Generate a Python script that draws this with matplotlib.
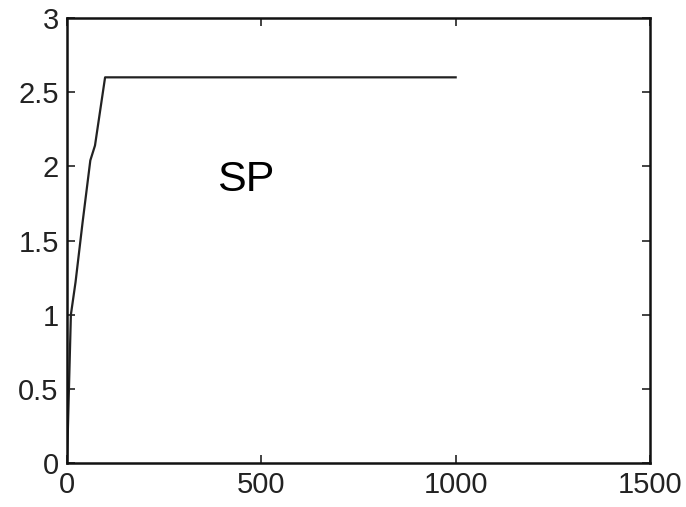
import matplotlib
matplotlib.use("Agg")
import matplotlib.pyplot as plt

x_vals = [0, 3, 10, 22, 40, 60, 72, 98, 1000]
y_vals = [0, 0.3, 1.0, 1.22, 1.62, 2.04, 2.14, 2.6, 2.6]
x_ticks = [0, 500, 1000, 1500]
y_ticks = [0, 0.5, 1, 1.5, 2, 2.5, 3]
y_tick_labels = ["0", "0.5", "1", "1.5", "2", "2.5", "3"]
label_text = "SP"

plt.rcParams['font.family'] = ['Liberation Sans', 'DejaVu Sans']

fig = plt.figure(figsize=(6.86, 5.07), dpi=100)
ax = fig.add_axes([67/686, 1 - 463/507, (650-67)/686, (463-18)/507])
ax.plot(x_vals, y_vals, color='#222222', lw=1.6)
ax.set_xlim(0, 1500)
ax.set_ylim(0, 3)
ax.set_xticks(x_ticks)
ax.set_xticklabels([str(t) for t in x_ticks])
ax.set_yticks(y_ticks)
ax.set_yticklabels(y_tick_labels)
ax.tick_params(direction='in', length=6, width=1.2, top=True, right=True,
               labelsize=21, colors='#222222', pad=6)
for s in ax.spines.values():
    s.set_linewidth(1.8)
    s.set_color('#111111')
ax.text(460, 1.91, label_text, fontsize=31, ha='center', va='center', color='black')
fig.savefig("out.png", dpi=100)
